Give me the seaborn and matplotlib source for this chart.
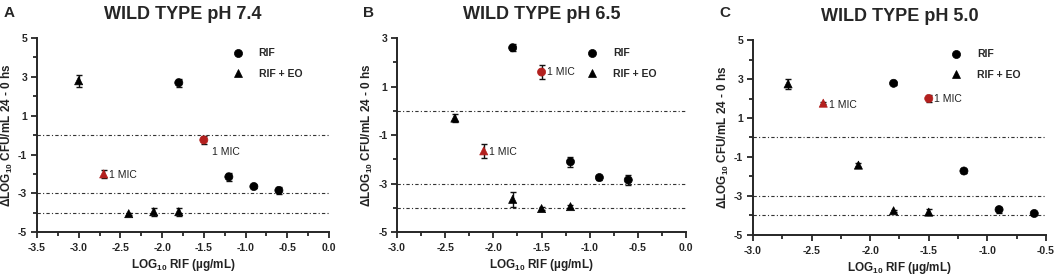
import numpy as np
import pandas as pd
import seaborn as sns
import matplotlib.pyplot as plt
from matplotlib.ticker import MultipleLocator

sns.set_style("ticks")
plt.rcParams['font.family'] = ['Liberation Sans', 'DejaVu Sans']
plt.rcParams['axes.unicode_minus'] = False
plt.rcParams['mathtext.fontset'] = 'custom'
plt.rcParams['mathtext.bf'] = 'Liberation Sans:bold'
plt.rcParams['mathtext.rm'] = 'Liberation Sans'

# concentrations (log10 ug/mL)
x_rif = {"A": [-1.8, -1.5, -1.2, -0.9, -0.6],
         "B": [-1.8, -1.5, -1.2, -0.9, -0.6],
         "C": [-1.8, -1.5, -1.2, -0.9, -0.6]}
x_eo = {"A": [-3.0, -2.7, -2.4, -2.1, -1.8],
        "B": [-2.4, -2.1, -1.8, -1.5, -1.2],
        "C": [-2.7, -2.4, -2.1, -1.8, -1.5]}

# delta log10 CFU/mL (24 - 0 h)
y_rif = {"A": [2.7, -0.25, -2.15, -2.65, -2.85],
         "B": [2.6, 1.6, -2.1, -2.75, -2.85],
         "C": [2.78, 2.0, -1.72, -3.7, -3.9]}
y_eo = {"A": [2.8, -2.0, -4.05, -3.95, -3.95],
        "B": [-0.3, -1.65, -3.65, -4.03, -3.95],
        "C": [2.75, 1.76, -1.42, -3.76, -3.83]}

# error (SD)
e_rif = {"A": [0.2, 0.2, 0.2, 0.08, 0.2],
         "B": [0.15, 0.3, 0.2, 0.12, 0.2],
         "C": [0.08, 0.2, 0.12, 0.15, 0.08]}
e_eo = {"A": [0.3, 0.2, 0.05, 0.2, 0.2],
        "B": [0.15, 0.3, 0.3, 0.05, 0.05],
        "C": [0.25, 0.05, 0.1, 0.05, 0.15]}

mic_idx = 1  # index of the 1 MIC point in each series

titles = {"A": "WILD TYPE pH 7.4", "B": "WILD TYPE pH 6.5", "C": "WILD TYPE pH 5.0"}
xlims = {"A": (-3.5, 0.0), "B": (-3.0, 0.0), "C": (-3.0, -0.5)}
ylims = {"A": (-5, 5), "B": (-5, 3), "C": (-5, 5)}
hlines = [0, -3, -4]

red = "#b3201e"

fig = plt.figure(figsize=(10.56, 2.8), dpi=100)
positions = {"A": [0.035, 0.171, 0.2765, 0.693],
             "B": [0.376, 0.171, 0.2737, 0.693],
             "C": [0.713, 0.161, 0.2775, 0.696]}
mic_offsets = {"A": [(6, -9), (4, -1)], "B": [(4, 0), (4, -1)], "C": [(4, 0), (4, -1)]}
legend_anchor = {"A": (0.94, 0.995), "B": (0.93, 0.995), "C": (0.945, 1.0)}

for key in ["A", "B", "C"]:
    ax = fig.add_axes(positions[key])
    df = pd.DataFrame({
        "x": x_rif[key] + x_eo[key],
        "y": y_rif[key] + y_eo[key],
        "err": e_rif[key] + e_eo[key],
        "group": ["RIF"] * 5 + ["RIF + EO"] * 5,
    })
    df["mic"] = False
    df.loc[[mic_idx, 5 + mic_idx], "mic"] = True

    for y0 in hlines:
        ax.axhline(y0, color="#333333", lw=0.8, ls=(0, (3, 2, 1, 2)), zorder=1)

    ax.errorbar(df["x"], df["y"], yerr=df["err"], fmt="none", ecolor="#111111",
                elinewidth=1.0, capsize=2.5, capthick=1.0, zorder=2)

    sns.scatterplot(data=df[~df["mic"]], x="x", y="y", style="group",
                    markers={"RIF": "o", "RIF + EO": "^"},
                    style_order=["RIF", "RIF + EO"],
                    color="black", s=34, edgecolor="black", linewidth=0.5,
                    ax=ax, zorder=3)
    sns.scatterplot(data=df[df["mic"]], x="x", y="y", style="group",
                    markers={"RIF": "o", "RIF + EO": "^"},
                    style_order=["RIF", "RIF + EO"],
                    color=red, s=34, edgecolor=red, linewidth=0.5,
                    ax=ax, zorder=3, legend=False)

    for (i, off) in zip([mic_idx, 5 + mic_idx], mic_offsets[key]):
        ax.annotate("1 MIC", (df["x"][i], df["y"][i]), xytext=off,
                    textcoords="offset points", fontsize=7.5, va="center", ha="left",
                    color="#222222")

    leg = ax.legend(loc="upper right", bbox_to_anchor=legend_anchor[key], frameon=False,
                    fontsize=7.5, handletextpad=1.0, labelspacing=1.0, markerscale=1.0)
    for t in leg.get_texts():
        t.set_fontweight("bold")

    ax.set_xlim(*xlims[key])
    ax.set_ylim(*ylims[key])
    ax.xaxis.set_major_locator(MultipleLocator(0.5))
    ax.xaxis.set_minor_locator(MultipleLocator(0.25))
    ax.yaxis.set_major_locator(MultipleLocator(2))
    ax.yaxis.set_minor_locator(MultipleLocator(1))
    ax.set_yticks(np.arange(ylims[key][0], ylims[key][1] + 1, 2))
    ax.xaxis.set_major_formatter(plt.FuncFormatter(lambda v, p: f"{v:.1f}"))
    ax.tick_params(which="major", length=4, width=1.3, labelsize=7.5, pad=3)
    ax.tick_params(axis="x", which="major", pad=4)
    ax.tick_params(which="minor", length=3, width=1.3)
    for lab in ax.get_xticklabels() + ax.get_yticklabels():
        lab.set_fontweight("bold")
    sns.despine(ax=ax)
    for sp in ["left", "bottom"]:
        ax.spines[sp].set_linewidth(1.4)

    ax.set_xlabel(r"LOG$_{\mathbf{10}}$ RIF (µg/mL)", fontsize=8.5, fontweight="bold",
                  color="#222222", labelpad=3)
    ax.set_ylabel(r"ΔLOG$_{\mathbf{10}}$ CFU/mL 24 - 0 hs", fontsize=8.5, fontweight="bold",
                  color="#222222", labelpad=2)
    ax.set_title(titles[key], fontsize=13, fontweight="bold", pad=14)
    fig.text(positions[key][0] - 0.032, 0.955, key, fontsize=11, fontweight="bold",
             va="center", ha="left")

fig.savefig("out.png", dpi=100)
